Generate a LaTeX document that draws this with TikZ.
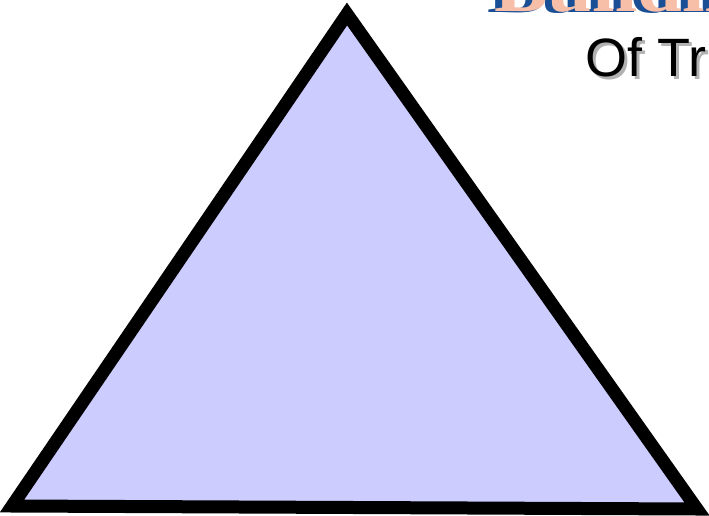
\documentclass[tikz,border=0pt]{standalone}
\usepackage{fontspec}
\setmainfont{Liberation Serif}
\newfontfamily\arialfont{Liberation Sans}
\definecolor{trifill}{HTML}{CCCCFF}
\definecolor{peach}{HTML}{F7BEA8}
\definecolor{extblue}{HTML}{1A4F96}
\tikzset{
  tri/.style={draw=black, fill=trifill, line width=13pt, line join=miter, miter limit=10},
  subtitle/.style={font=\arialfont\fontsize{54}{60}\selectfont, inner sep=0pt, anchor=base west},
  wordart/.style={font=\bfseries\fontsize{70}{80}\selectfont, inner sep=0pt, anchor=base west, xscale=1.15}
}
\begin{document}
\begin{tikzpicture}[x=1pt, y=-1pt]
\useasboundingbox (0,0) rectangle (709,516);
\begin{scope}
\clip (0,0) rectangle (709,516);
% triangle
\coordinate (apex) at (347,14);
\coordinate (bl) at (12,506);
\coordinate (br) at (697,509);
\draw[tri] (apex) -- (br) -- (bl) -- cycle;
% word art (cut off at top)
\foreach \k in {7,4,2}{
  \node[wordart, text=extblue] at (494-\k,13) {Building};
}
\node[wordart, text=peach] (title) at (494,12) {Building};
% subtitle with shadow
\node[subtitle, text=black!30] at (588,80) {Of Tr};
\node[subtitle, text=black] (sub) at (585,77) {Of Tr};
\end{scope}
\end{tikzpicture}
\end{document}
